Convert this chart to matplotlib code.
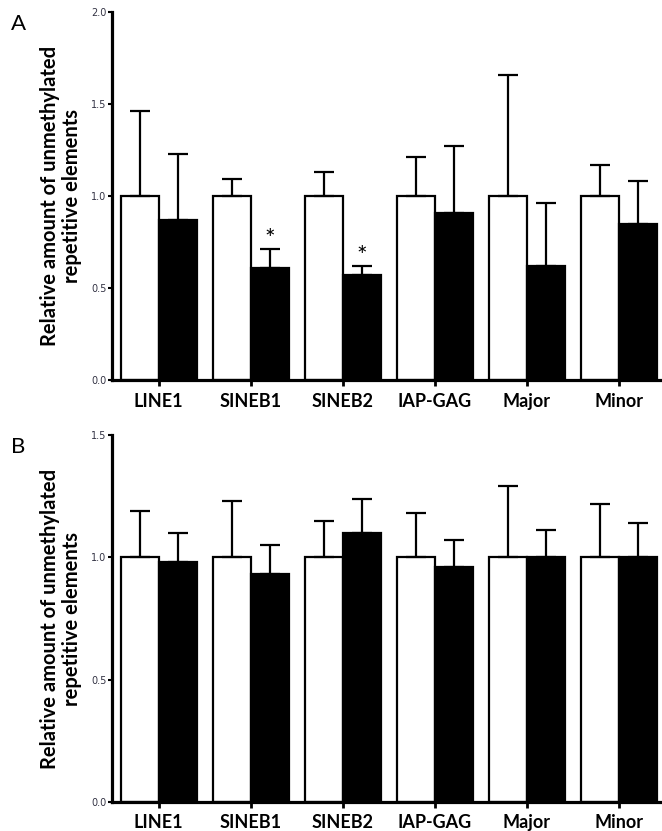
"""Relative amount of unmethylated repetitive elements, two panels (A, B)."""

import matplotlib.pyplot as plt
import numpy as np

plt.rcParams["font.family"] = ["Lato", "DejaVu Sans"]

ELEMENTS = ["LINE1", "SINEB1", "SINEB2", "IAP-GAG", "Major", "Minor"]

# Panel A
A_CTRL = [1.0, 1.0, 1.0, 1.0, 1.0, 1.0]
A_CTRL_ERR = [0.46, 0.09, 0.13, 0.21, 0.66, 0.17]
A_TREAT = [0.87, 0.61, 0.57, 0.91, 0.62, 0.85]
A_TREAT_ERR = [0.36, 0.10, 0.05, 0.36, 0.34, 0.23]
A_SIGNIF = [False, True, True, False, False, False]

# Panel B
B_CTRL = [1.0, 1.0, 1.0, 1.0, 1.0, 1.0]
B_CTRL_ERR = [0.19, 0.23, 0.15, 0.18, 0.29, 0.22]
B_TREAT = [0.98, 0.93, 1.10, 0.96, 1.00, 1.00]
B_TREAT_ERR = [0.12, 0.12, 0.14, 0.11, 0.11, 0.14]
B_SIGNIF = [False] * 6

YLABEL = "Relative amount of unmethylated\nrepetitive elements"

W = 0.413


def panel(ax, ctrl, ctrl_err, treat, treat_err, signif, ymax, letter):
    x = np.arange(len(ELEMENTS))
    err_kw = dict(elinewidth=1.6, capsize=7, capthick=1.6, ecolor="black")
    ax.bar(x - W / 2, ctrl, W, color="white", edgecolor="black", linewidth=1.6,
           yerr=[np.zeros(len(x)), ctrl_err], error_kw=err_kw, zorder=2)
    ax.bar(x + W / 2, treat, W, color="black", edgecolor="black", linewidth=1.6,
           yerr=[np.zeros(len(x)), treat_err], error_kw=err_kw, zorder=2)
    for xi, t, e, s in zip(x, treat, treat_err, signif):
        if s:
            ax.text(xi + W / 2, t + e - 0.01, "*", ha="center", va="bottom",
                    fontsize=18)

    ax.set_xlim(-0.51, 5.47)
    ax.set_ylim(0, ymax)
    ticks = np.arange(0, ymax + 0.01, 0.5)
    ax.set_yticks(ticks)
    ax.set_yticklabels([f"{v:.1f}" for v in ticks],
                       fontsize=7, color="#333344", family="DejaVu Sans")
    ax.set_xticks(x)
    ax.set_xticklabels(ELEMENTS, fontsize=13, fontweight="bold")
    ax.tick_params(axis="y", length=3, width=1.5, pad=1)
    ax.tick_params(axis="x", length=4, width=2, pad=5)

    for side in ("top", "right"):
        ax.spines[side].set_visible(False)
    for side in ("left", "bottom"):
        ax.spines[side].set_linewidth(2.3)

    ax.set_ylabel(YLABEL, fontsize=14.5, fontweight="bold", linespacing=1.1)
    ax.yaxis.set_label_coords(-0.055, 0.5)
    ax.text(-0.183, 0.995, letter, transform=ax.transAxes, fontsize=16,
            va="top", ha="left")


fig = plt.figure(figsize=(6.62, 8.31), dpi=100)
ax_a = fig.add_axes([0.169, 0.5427, 0.831, 0.4428])
ax_b = fig.add_axes([0.169, 0.0349, 0.831, 0.4416])

panel(ax_a, A_CTRL, A_CTRL_ERR, A_TREAT, A_TREAT_ERR, A_SIGNIF, 2.0, "A")
panel(ax_b, B_CTRL, B_CTRL_ERR, B_TREAT, B_TREAT_ERR, B_SIGNIF, 1.5, "B")

fig.savefig("out.png", dpi=100)
